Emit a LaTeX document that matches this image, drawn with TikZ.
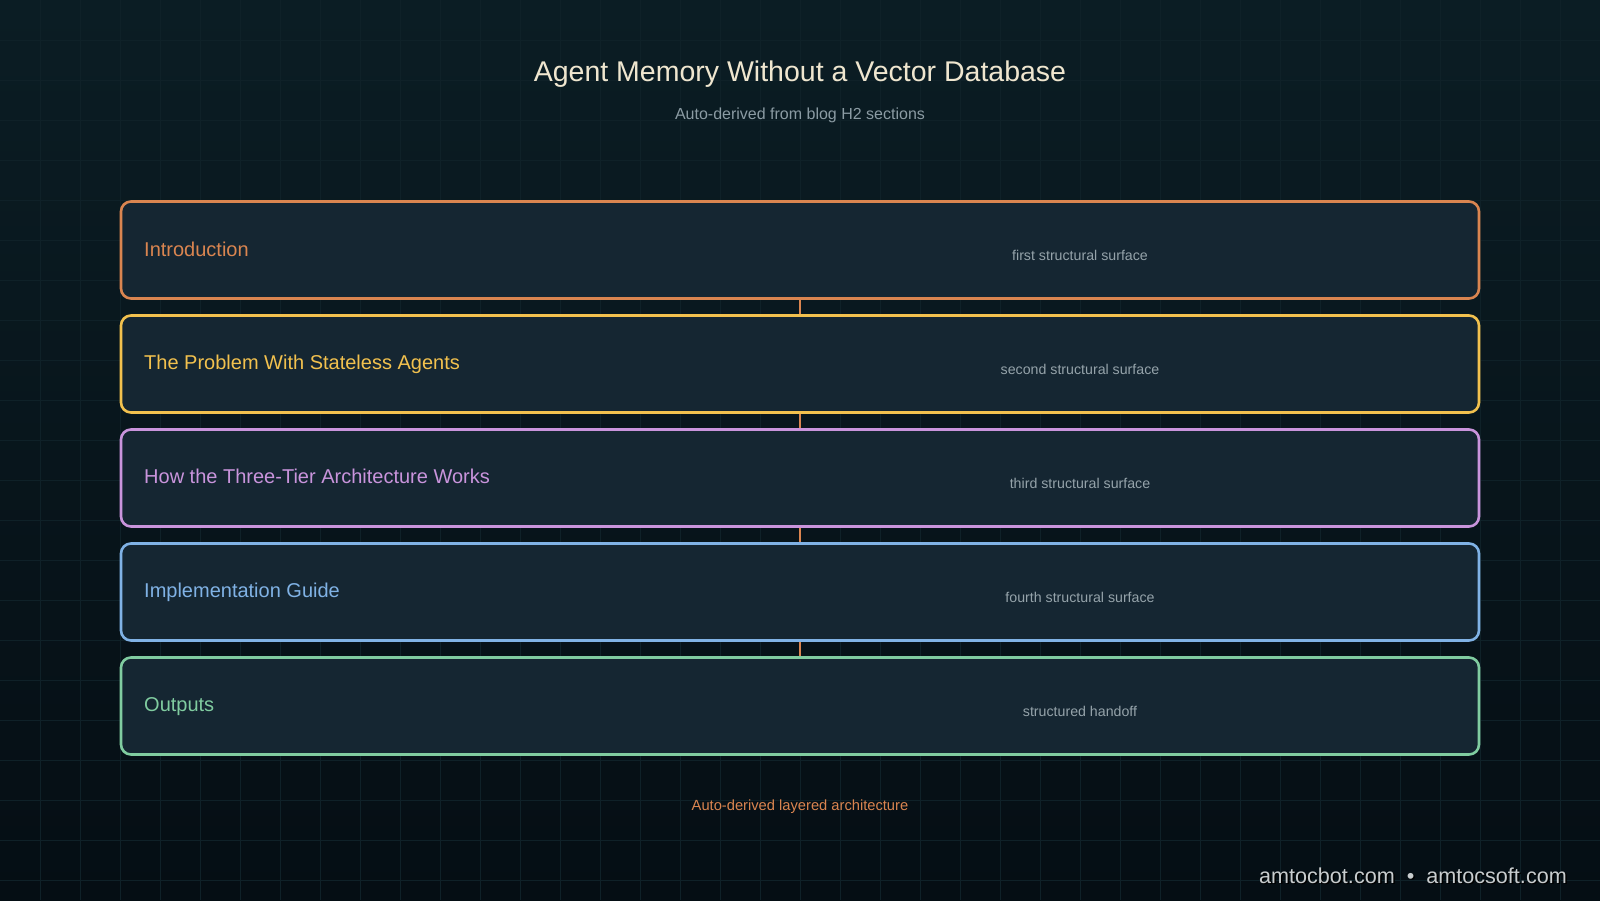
\documentclass[tikz,border=0pt]{standalone}
\usepackage{fontspec}
\setmainfont{Liberation Sans}
\usepackage{tikz}
\usetikzlibrary{positioning}

\definecolor{bgtop}{HTML}{0B1D24}
\definecolor{bgbot}{HTML}{050E14}
\definecolor{gridc}{HTML}{0F2128}
\definecolor{boxfill}{HTML}{152632}
\definecolor{titlec}{HTML}{EFE6CF}
\definecolor{subc}{HTML}{8B9BA3}
\definecolor{notec}{HTML}{95A3AA}
\definecolor{footc}{HTML}{C8CCCE}
\definecolor{orangeL}{HTML}{DA8550}
\definecolor{yellowL}{HTML}{F2C14E}
\definecolor{purpleL}{HTML}{C994DC}
\definecolor{blueL}{HTML}{80B2E5}
\definecolor{greenL}{HTML}{80CCA0}

\tikzset{
  layer/.style={draw, line width=2.6pt, rounded corners=10pt, fill=boxfill,
    minimum width=1358pt, minimum height=97pt, inner sep=0pt},
  heading/.style={anchor=base west, inner sep=0pt, font=\fontsize{20}{23}\selectfont},
  note/.style={anchor=base, inner sep=0pt, text=notec, font=\fontsize{14.2}{16}\selectfont},
  link/.style={draw=orangeL, line width=1.5pt}
}

\begin{document}
\begin{tikzpicture}[x=1pt, y=-1pt]
        % canvas is 1600 x 900, y grows downward
        \useasboundingbox (0,0) rectangle (1600,900);
        \shade[top color=bgtop, bottom color=bgbot] (0,0) rectangle (1600,900);
        \foreach \gx in {40,80,...,1560} \draw[gridc, line width=0.8pt] (\gx,0) -- (\gx,900);
        \foreach \gy in {40,80,...,880} \draw[gridc, line width=0.8pt] (0,\gy) -- (1600,\gy);

        % title block
        \node[anchor=base, inner sep=0pt, text=titlec, font=\fontsize{28.5}{32}\selectfont] (title) at (800,81) {Agent Memory Without a Vector Database};
        \node[anchor=base, inner sep=0pt, text=subc, font=\fontsize{16}{18}\selectfont] (subtitle) at (800,119) {Auto-derived from blog H2 sections};

        % the five layers, 114 apart
        \node[layer, draw=orangeL] (intro) at (800,250) {};
        \node[layer, draw=yellowL] (problem) at (800,364) {};
        \node[layer, draw=purpleL] (tiers) at (800,478) {};
        \node[layer, draw=blueL] (guide) at (800,592) {};
        \node[layer, draw=greenL] (outputs) at (800,706) {};

        \draw[link] (intro.south) -- (problem.north);
        \draw[link] (problem.south) -- (tiers.north);
        \draw[link] (tiers.south) -- (guide.north);
        \draw[link] (guide.south) -- (outputs.north);

        \node[heading, text=orangeL] (introname) at (144,256) {Introduction};
        \node[heading, text=yellowL] (problemname) at (144,369) {The Problem With Stateless Agents};
        \node[heading, text=purpleL] (tiersname) at (144,483) {How the Three-Tier Architecture Works};
        \node[heading, text=blueL] (guidename) at (144,597) {Implementation Guide};
        \node[heading, text=greenL] (outputsname) at (144,711) {Outputs};

        \node[note] (intronote) at (1080,260) {first structural surface};
        \node[note] (problemnote) at (1080,374) {second structural surface};
        \node[note] (tiersnote) at (1080,488) {third structural surface};
        \node[note] (guidenote) at (1080,602) {fourth structural surface};
        \node[note] (outputsnote) at (1080,716) {structured handoff};

        % footer
        \node[anchor=base, inner sep=0pt, text=orangeL, font=\fontsize{14.7}{18}\selectfont] (caption) at (800,810) {Auto-derived layered architecture};
        \node[anchor=base east, inner sep=0pt, text=black, font=\fontsize{21.6}{24}\selectfont] (brandshadow) at (1568.5,884.5) {amtocbot.com \ \textbullet\ \ amtocsoft.com};
        \node[anchor=base east, inner sep=0pt, text=footc, font=\fontsize{21.6}{24}\selectfont] (brand) at (1567,883) {amtocbot.com \ \textbullet\ \ amtocsoft.com};
\end{tikzpicture}
\end{document}
